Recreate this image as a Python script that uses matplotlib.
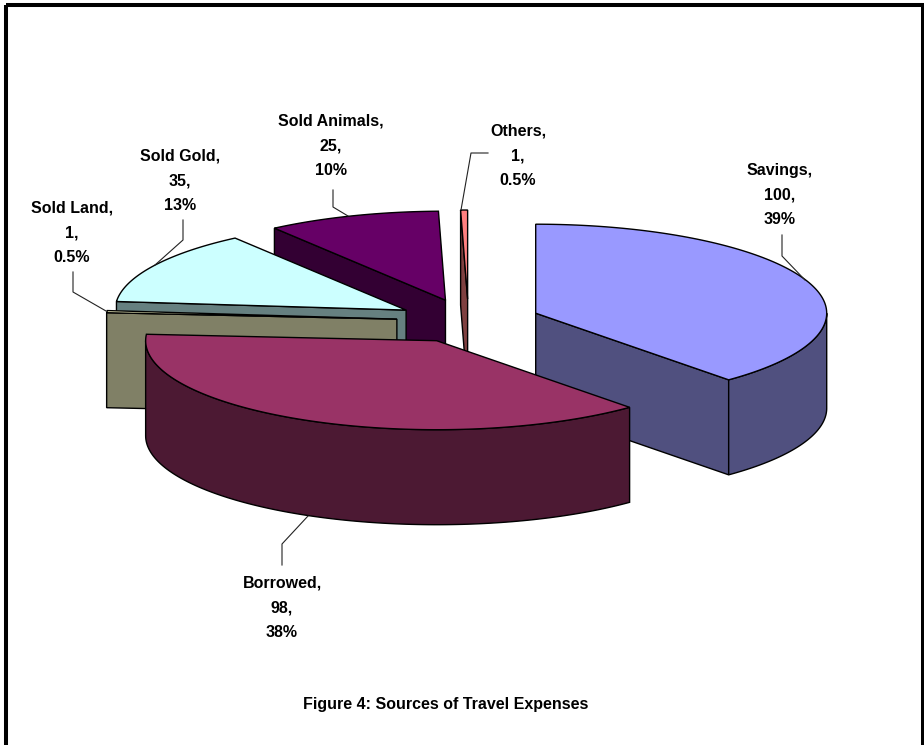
import numpy as np
import matplotlib
matplotlib.use("Agg")
import matplotlib.pyplot as plt
from matplotlib.patches import Polygon, Rectangle

names = ["Savings", "Borrowed", "Sold Land", "Sold Gold", "Sold Animals", "Others"]
values = [100, 98, 1, 35, 25, 1]
percents = ["39%", "38%", "0.5%", "13%", "10%", "0.5%"]

top_colors = ["#9999FF", "#993366", "#FFFFCC", "#CCFFFF", "#660066", "#FF8080"]
side_colors = ["#50507F", "#4C1933", "#808066", "#668080", "#330033", "#7F4040"]

# pie geometry, in pixels of the picture
cx, cy = 468.5, 321
rx, ry = 291, 89
explode = 0.247
depth = 95

# back to front
draw_order = [5, 4, 3, 2, 0, 1]

label_pos = [(780, 195), (282, 608), (72, 233), (180, 181), (331, 146), (518, 156)]
leaders = [
    [(782, 235), (782, 256), (805, 280)],
    [(282, 565), (282, 544), (308, 516)],
    [(73, 272), (73, 292), (106, 311)],
    [(183, 220), (183, 240), (155, 265)],
    [(333, 190), (333, 207), (348, 216)],
    [(488, 153), (471, 153), (461, 210)],
]

plt.rcParams["font.family"] = ["Liberation Sans", "DejaVu Sans"]

fig = plt.figure(figsize=(9.24, 7.45), dpi=100)
ax = fig.add_axes([0, 0, 1, 1])
ax.set_xlim(0, 924)
ax.set_ylim(745, 0)
ax.axis("off")

# frame, open at the bottom of the picture
ax.add_patch(Rectangle((6, 5), 917, 760, fill=False, ec="black", lw=2.9, zorder=0))

edges = np.cumsum([0] + values) / sum(values) * 360


def point(a, r, ox, oy, drop=0.0):
    t = np.radians(a)
    return ox + rx * r * np.sin(t), oy - ry * r * np.cos(t) + drop


def face(pts, color):
    ax.add_patch(Polygon(pts, closed=True, fc=color, ec="black", lw=1.0, joinstyle="miter"))


for i in draw_order:
    a0, a1 = edges[i], edges[i + 1]
    mid = (a0 + a1) / 2
    ox, oy = point(mid, explode, cx, cy)
    arc = np.linspace(a0, a1, 120)

    # cut faces that look towards the viewer
    for a, normal in ((a0, a0 - 90), (a1, a1 + 90)):
        if np.cos(np.radians(normal)) < -1e-6:
            face([point(a, 0, ox, oy), point(a, 1, ox, oy),
                  point(a, 1, ox, oy, depth), point(a, 0, ox, oy, depth)], side_colors[i])

    # outer wall, front half only
    lo, hi = max(a0, 90), min(a1, 270)
    if lo < hi:
        wall = np.linspace(lo, hi, 120)
        upper = [point(a, 1, ox, oy) for a in wall]
        lower = [point(a, 1, ox, oy, depth) for a in wall[::-1]]
        face(upper + lower, side_colors[i])

    face([point(0, 0, ox, oy)] + [point(a, 1, ox, oy) for a in arc], top_colors[i])

for i, name in enumerate(names):
    xs, ys = zip(*leaders[i])
    ax.plot(xs, ys, color="#222222", lw=0.8)
    x, y = label_pos[i]
    ax.text(x, y, f"{name},\n{values[i]},\n{percents[i]}", ha="center", va="center",
            fontsize=11.5, fontweight="bold", linespacing=1.83, color="black")

ax.text(446, 704, "Figure 4: Sources of Travel Expenses", ha="center", va="center",
        fontsize=11.5, fontweight="bold", color="black")

fig.savefig("out.png", dpi=100)
